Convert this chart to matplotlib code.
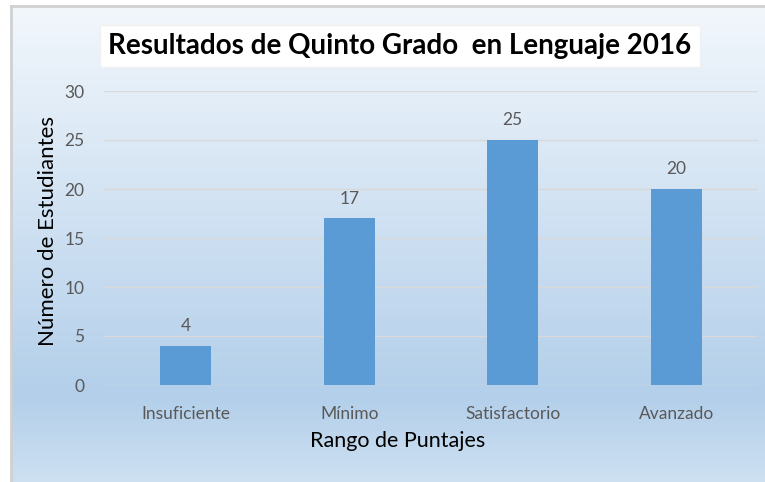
import numpy as np
import matplotlib.pyplot as plt
from matplotlib.colors import LinearSegmentedColormap

# data
categorias = ['Insuficiente', 'Mínimo', 'Satisfactorio', 'Avanzado']
estudiantes = [4, 17, 25, 20]
y_ticks = [0, 5, 10, 15, 20, 25, 30]

titulo = 'Resultados de Quinto Grado  en Lenguaje 2016'
plt.rcParams['font.family'] = ['Lato', 'DejaVu Sans']

W, H = 765, 482
fig = plt.figure(figsize=(W / 100, H / 100), dpi=100, facecolor='white')

# gradient background of the chart area
bg = fig.add_axes([11 / W, 0, 1 - 11 / W, 1 - 6 / H], zorder=0)
cmap = LinearSegmentedColormap.from_list(
    'fondo', [(0, '#f2f7fc'), (0.82, '#b3cfea'), (1, '#cde0f1')])
grad = np.linspace(0, 1, 256).reshape(-1, 1)
bg.imshow(grad, aspect='auto', cmap=cmap, extent=[0, 1, 1, 0])
bg.set_xlim(0, 1)
bg.set_ylim(1, 0)
bg.axis('off')
# grey frame on top and left
fig.add_artist(plt.Line2D([11 / W, 1], [1 - 6 / H, 1 - 6 / H], color='#d0d0d0', lw=2))
fig.add_artist(plt.Line2D([11 / W, 11 / W], [0, 1 - 6 / H], color='#d0d0d0', lw=2))

ax = fig.add_axes([104 / W, 1 - 385 / H, (758 - 104) / W, (385 - 91) / H], zorder=1)
ax.patch.set_alpha(0)

x = np.arange(len(categorias))
ax.bar(x, estudiantes, width=0.31, color='#5b9bd5', zorder=3)
for xi, v in zip(x, estudiantes):
    ax.text(xi, v + 1.2, str(v), ha='center', va='bottom', fontsize=12.5, color='#595959')

ax.set_xlim(-0.5, len(categorias) - 0.5)
ax.set_ylim(0, 30)
ax.set_yticks(y_ticks)
ax.set_xticks(x)
ax.set_xticklabels(categorias)
ax.grid(axis='y', color='#d9d9d9', lw=1, zorder=0)
for s in ax.spines.values():
    s.set_visible(False)
ax.tick_params(length=0, labelsize=12.5, labelcolor='#595959')
ax.tick_params(axis='y', pad=14)
ax.tick_params(axis='x', pad=15)

# axis titles
fig.text(398 / W, 1 - 441 / H, 'Rango de Puntajes', ha='center', va='center',
         fontsize=15.5, color='black')
fig.text(48 / W, 1 - 231 / H, 'Número de Estudiantes', ha='center', va='center',
         rotation=90, fontsize=16, color='black')

# title in white box
fig.text(400 / W, 1 - 46 / H, titulo, ha='center', va='center', fontsize=20,
         fontweight='bold', color='black',
         bbox=dict(boxstyle='square,pad=0.3', facecolor='white', edgecolor='#f0f0f0'))

fig.savefig('out.png', dpi=100, facecolor='white')
